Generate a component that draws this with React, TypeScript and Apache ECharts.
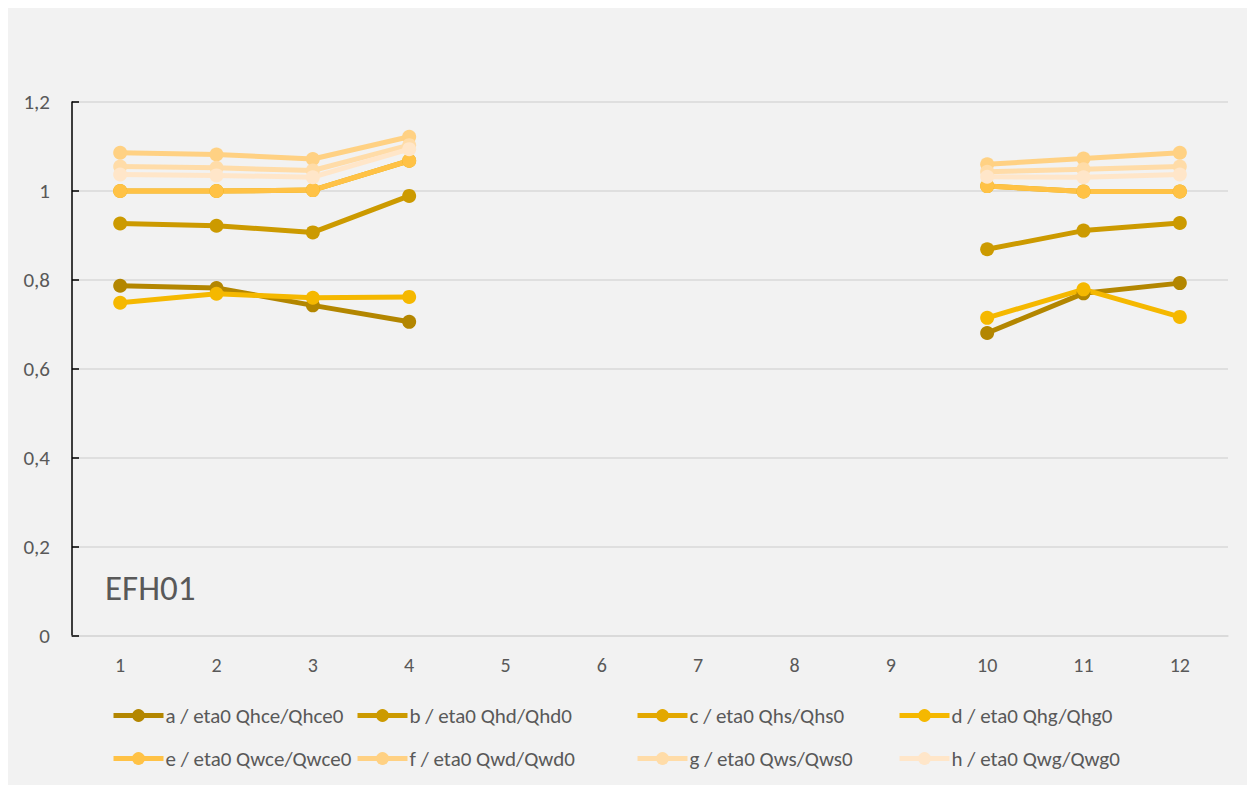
import React, { useEffect, useRef } from "react";
import * as echarts from "echarts";

const categories = ["1", "2", "3", "4", "5", "6", "7", "8", "9", "10", "11", "12"];
const yTicks = [0, 0.2, 0.4, 0.6, 0.8, 1.0, 1.2];

const seriesNames = [
  "a / eta0 Qhce/Qhce0",
  "b / eta0 Qhd/Qhd0",
  "c / eta0 Qhs/Qhs0",
  "d / eta0 Qhg/Qhg0",
  "e / eta0 Qwce/Qwce0",
  "f / eta0 Qwd/Qwd0",
  "g / eta0 Qws/Qws0",
  "h / eta0 Qwg/Qwg0",
];
const seriesColors = ["#B38600", "#CC9A00", "#E3A800", "#F5B800", "#FFC246", "#FFD183", "#FFDCA8", "#FFE6C9"];

const aValues = [0.787, 0.782, 0.743, 0.706, null, null, null, null, null, 0.681, 0.770, 0.793];
const bValues = [0.927, 0.922, 0.907, 0.989, null, null, null, null, null, 0.869, 0.911, 0.928];
const cValues = [1.0, 1.0, 1.002, 1.068, null, null, null, null, null, 1.011, 0.999, 0.999];
const dValues = [0.749, 0.769, 0.760, 0.762, null, null, null, null, null, 0.715, 0.779, 0.717];
const eValues = [1.0, 1.0, 1.002, 1.068, null, null, null, null, null, 1.011, 0.999, 0.999];
const fValues = [1.086, 1.082, 1.072, 1.122, null, null, null, null, null, 1.060, 1.073, 1.086];
const gValues = [1.055, 1.052, 1.046, 1.103, null, null, null, null, null, 1.043, 1.049, 1.055];
const hValues = [1.037, 1.035, 1.031, 1.094, null, null, null, null, null, 1.032, 1.031, 1.037];

const allValues = [aValues, bValues, cValues, dValues, eValues, fValues, gValues, hValues];

const chartLabel = "EFH01";
const FONT = "Carlito, Lato, 'Open Sans', sans-serif";
const TEXT_COLOR = "#595959";

export default function App() {
  const ref = useRef<HTMLDivElement>(null);
  useEffect(() => {
    if (!ref.current) return;
    const chart = echarts.init(ref.current, undefined, { renderer: "svg" });
    const legendCols = [103, 347, 627, 889];
    const legends = legendCols.map((left, i) => ({
      left,
      top: 697,
      padding: 0,
      orient: "vertical",
      itemWidth: 50,
      itemHeight: 16,
      itemGap: 22,
      data: [seriesNames[i], seriesNames[i + 4]],
      lineStyle: { width: 5 },
      textStyle: { color: TEXT_COLOR, fontSize: 21, fontFamily: FONT, padding: [0, 0, 0, -3] },
    }));
    chart.setOption({
      animation: false,
      backgroundColor: "#F2F2F2",
      textStyle: { fontFamily: FONT },
      grid: { left: 64, right: 22, top: 94, bottom: 149 },
      legend: legends,
      graphic: [
        {
          type: "text",
          left: 97,
          top: 562,
          style: { text: chartLabel, fontSize: 35, fill: TEXT_COLOR, fontFamily: FONT },
        },
      ],
      xAxis: {
        type: "category",
        data: categories,
        boundaryGap: true,
        axisLine: { lineStyle: { color: "#D9D9D9", width: 1.5 } },
        axisTick: { show: false },
        axisLabel: { color: TEXT_COLOR, fontSize: 20, margin: 19, fontFamily: FONT },
      },
      yAxis: {
        type: "value",
        min: yTicks[0],
        max: yTicks[yTicks.length - 1],
        interval: 0.2,
        axisLine: { show: true, lineStyle: { color: "#000000", width: 1.5 } },
        axisTick: { show: true, inside: true, length: 7, lineStyle: { color: "#000000", width: 1.5 } },
        splitLine: { lineStyle: { color: "#D9D9D9", width: 1.5 } },
        axisLabel: {
          color: TEXT_COLOR,
          fontSize: 21,
          margin: 22,
          fontFamily: FONT,
          formatter: (v: number) => String(Math.round(v * 10) / 10).replace(".", ","),
        },
      },
      series: allValues.map((vals, i) => ({
        name: seriesNames[i],
        type: "line",
        data: vals,
        connectNulls: false,
        symbol: "circle",
        symbolSize: 14,
        itemStyle: { color: seriesColors[i] },
        lineStyle: { color: seriesColors[i], width: 5 },
      })),
    });
    return () => chart.dispose();
  }, []);
  return <div ref={ref} style={{ width: 1242, height: 777 }} />;
}
